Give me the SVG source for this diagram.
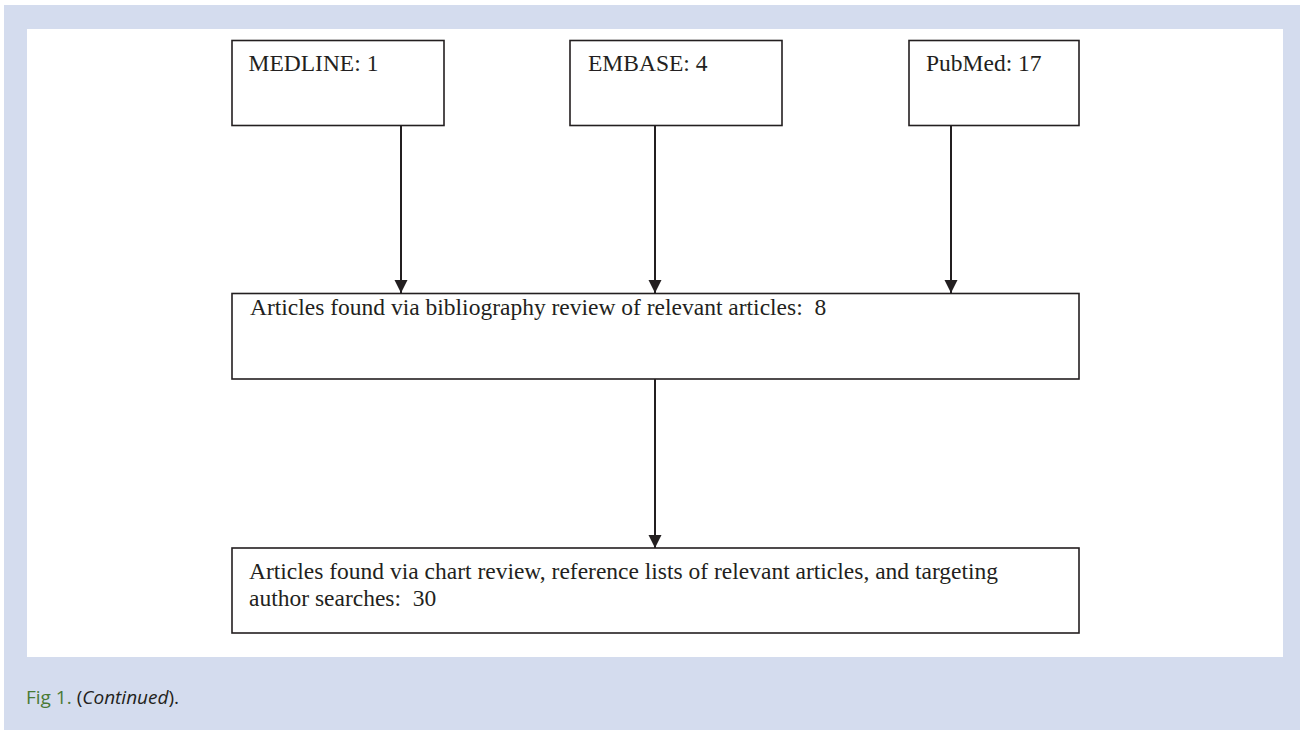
<svg xmlns="http://www.w3.org/2000/svg" width="1300" height="730" viewBox="0 0 1300 730">
  <style>
    .box { fill: #ffffff; stroke: #231f20; stroke-width: 1.6; }
    .lbl { font-family: "Liberation Serif", "Times New Roman", serif; font-size: 23.5px; fill: #231f20; white-space: pre; }
    .conn { stroke: #231f20; stroke-width: 2; fill: none; }
    .cap { font-family: "Open Sans", "Noto Sans", sans-serif; font-size: 19px; fill: #231f20; }
  </style>
  <defs>
    <marker id="arrow" markerUnits="userSpaceOnUse" markerWidth="14" markerHeight="14" viewBox="0 0 14 14" refX="13" refY="7" orient="auto">
      <path d="M0,0.5 L13,7 L0,13.5 Z" fill="#231f20"/>
    </marker>
  </defs>
  <rect x="0" y="0" width="1300" height="730" fill="#ffffff"/>
  <rect x="4" y="5" width="1296" height="725" fill="#d4dcee"/>
  <rect x="27" y="29" width="1256" height="628" fill="#ffffff"/>

  <g id="connectors">
    <line class="conn" x1="401" y1="125" x2="401" y2="293" marker-end="url(#arrow)"/>
    <line class="conn" x1="655" y1="125" x2="655" y2="293" marker-end="url(#arrow)"/>
    <line class="conn" x1="951" y1="125" x2="951" y2="293" marker-end="url(#arrow)"/>
    <line class="conn" x1="655" y1="379" x2="655" y2="548" marker-end="url(#arrow)"/>
  </g>

  <g id="medline">
    <rect class="box" x="232" y="40.5" width="212" height="85"/>
    <text class="lbl" x="248.5" y="71">MEDLINE: 1</text>
  </g>
  <g id="embase">
    <rect class="box" x="570" y="40.5" width="212" height="85"/>
    <text class="lbl" x="588" y="71">EMBASE: 4</text>
  </g>
  <g id="pubmed">
    <rect class="box" x="909" y="40.5" width="170" height="85"/>
    <text class="lbl" x="926" y="71">PubMed: 17</text>
  </g>
  <g id="bibliography">
    <rect class="box" x="232" y="293.5" width="847" height="85.5"/>
    <text class="lbl" x="250" y="315">Articles found via bibliography review of relevant articles:  8</text>
  </g>
  <g id="chart">
    <rect class="box" x="232" y="548" width="847" height="85"/>
    <text class="lbl" x="249" y="579">Articles found via chart review, reference lists of relevant articles, and targeting</text>
    <text class="lbl" x="249" y="606">author searches:  30</text>
  </g>

  <text class="cap" x="26" y="704"><tspan fill="#4a7a35">Fig 1.</tspan> (<tspan font-style="italic">Continued</tspan>).</text>
</svg>
